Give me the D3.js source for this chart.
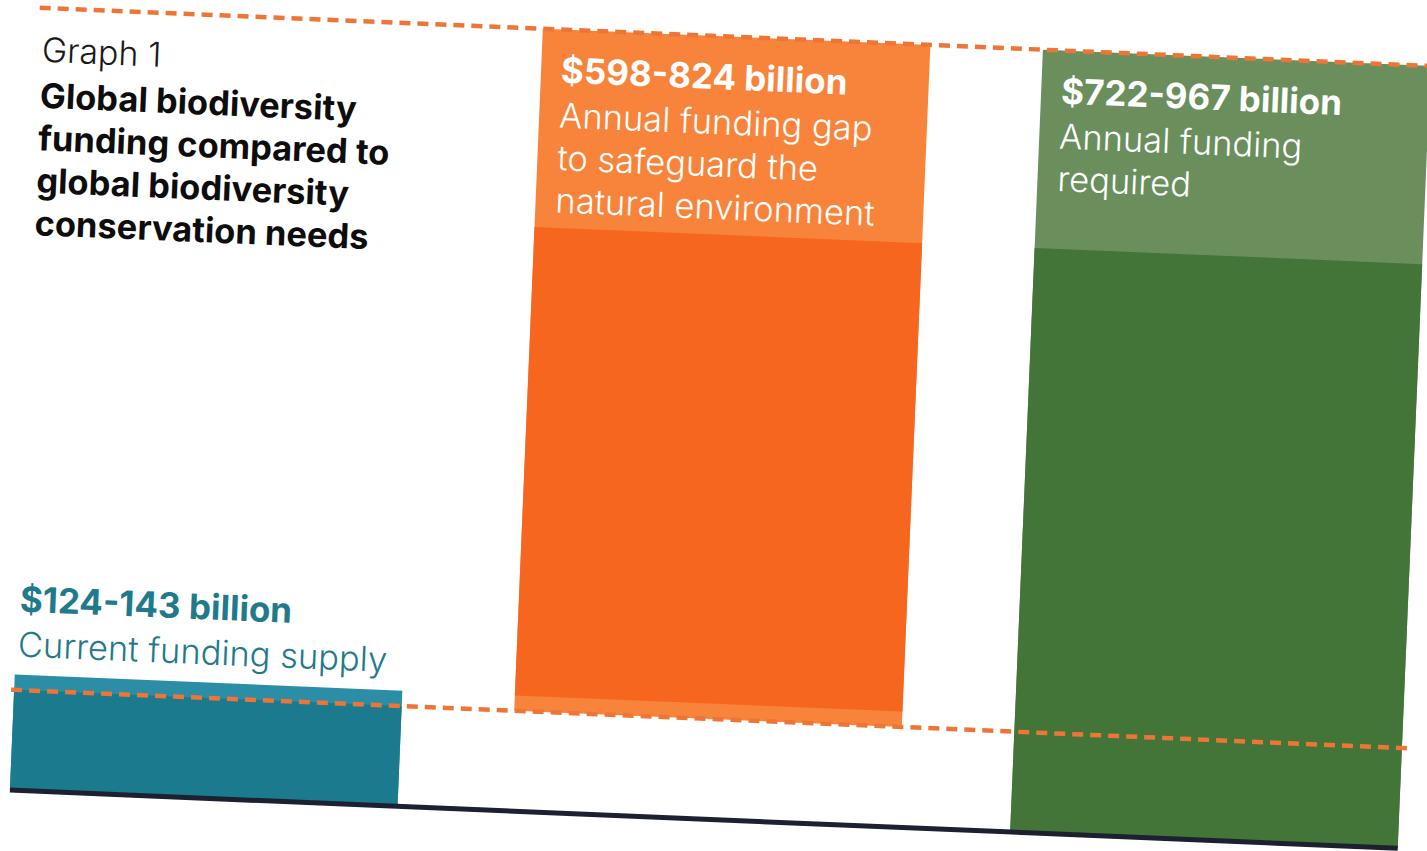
<!DOCTYPE html>
<html>
<head>
<meta charset="utf-8">
<script src="https://cdn.jsdelivr.net/npm/d3@7"></script>
<style>
  html, body { margin: 0; padding: 0; background: #ffffff; }
  svg { display: block; }
  text { font-family: Inter, "Noto Sans", sans-serif; }
</style>
</head>
<body>
<svg id="chart" width="1427" height="851"></svg>
<script>
// Global biodiversity funding (US$ billion per year): low and high estimates
const categories = ["supply", "gap", "required"];
const lowValues  = [124, 598, 722];
const highValues = [143, 824, 967];
// the gap bar is stacked on top of the current supply
const baseLow  = [0, 124, 0];
const baseHigh = [0, 143, 0];
const amountLabels = ["$124-143 billion", "$598-824 billion", "$722-967 billion"];
const descLines = [
  ["Current funding supply"],
  ["Annual funding gap", "to safeguard the", "natural environment"],
  ["Annual funding", "required"]
];
const titleSmall = "Graph 1";
const titleLines = ["Global biodiversity", "funding compared to", "global biodiversity", "conservation needs"];

const darkColors  = ["#1b7a8e", "#f7661f", "#437538"];
const lightColors = ["#2b8ea6", "#f8843c", "#6a8f5d"];
const textColors  = ["#1f7a8c", "#ffffff", "#ffffff"];

const svg = d3.select("#chart");
// the whole graphic sits slightly tilted on the page
const g = svg.append("g").attr("transform", "rotate(2.4)");

const x = d3.scaleBand().domain(categories).range([43, 1432]).paddingInner(0.225).paddingOuter(0);
const y = d3.scaleLinear().domain([0, 967]).range([789, 6]);

const rows = categories.map((c, i) => ({
  c, i,
  lightFrom: baseLow[i],  lightTo: baseHigh[i] + highValues[i],
  darkFrom:  baseHigh[i], darkTo:  baseLow[i] + lowValues[i]
}));

// light segments: full uncertainty range
g.selectAll("rect.light").data(rows).join("rect")
  .attr("class", "light")
  .attr("x", d => x(d.c))
  .attr("width", x.bandwidth())
  .attr("y", d => y(d.lightTo))
  .attr("height", d => y(d.lightFrom) - y(d.lightTo))
  .attr("fill", d => lightColors[d.i]);

// dark segments: the part common to both estimates
g.selectAll("rect.dark").data(rows).join("rect")
  .attr("class", "dark")
  .attr("x", d => x(d.c))
  .attr("width", x.bandwidth())
  .attr("y", d => y(d.darkTo))
  .attr("height", d => y(d.darkFrom) - y(d.darkTo))
  .attr("fill", d => darkColors[d.i]);

// baseline
g.append("line")
  .attr("x1", 43).attr("x2", 1432)
  .attr("y1", y(0)).attr("y2", y(0))
  .attr("stroke", "#1c2030").attr("stroke-width", 5);

// dashed reference lines at current supply and at maximum need
[lowValues[0], highValues[2]].forEach(v => {
  g.append("line")
    .attr("x1", 40).attr("x2", 1440)
    .attr("y1", y(v)).attr("y2", y(v))
    .attr("stroke", "#ee7535").attr("stroke-width", 4.5)
    .attr("stroke-dasharray", "11,7");
});

// title block
g.append("text")
  .attr("x", 44).attr("y", 60)
  .attr("font-size", 34).attr("font-weight", 300)
  .attr("fill", "#1a1a1a")
  .text(titleSmall);

g.append("text")
  .attr("font-size", 34.5).attr("font-weight", 700)
  .attr("fill", "#0d0d0d")
  .selectAll("tspan").data(titleLines).join("tspan")
  .attr("x", 44)
  .attr("y", (d, i) => 106 + i * 42.5)
  .text(d => d);

// bar labels
rows.forEach(d => {
  const lx = x(d.c) + (d.i === 0 ? 2 : 20);
  const top = d.i === 0 ? y(d.lightTo) - 63 : y(d.lightTo) + 53;
  g.append("text")
    .attr("x", lx).attr("y", top)
    .attr("font-size", 35).attr("font-weight", 700)
    .attr("fill", textColors[d.i])
    .text(amountLabels[d.i]);
  g.append("text")
    .attr("font-size", 34.5).attr("font-weight", 300)
    .attr("fill", textColors[d.i])
    .selectAll("tspan").data(descLines[d.i]).join("tspan")
    .attr("x", lx)
    .attr("y", (t, j) => top + 45 + j * 42.5)
    .text(t => t);
});
</script>
</body>
</html>
